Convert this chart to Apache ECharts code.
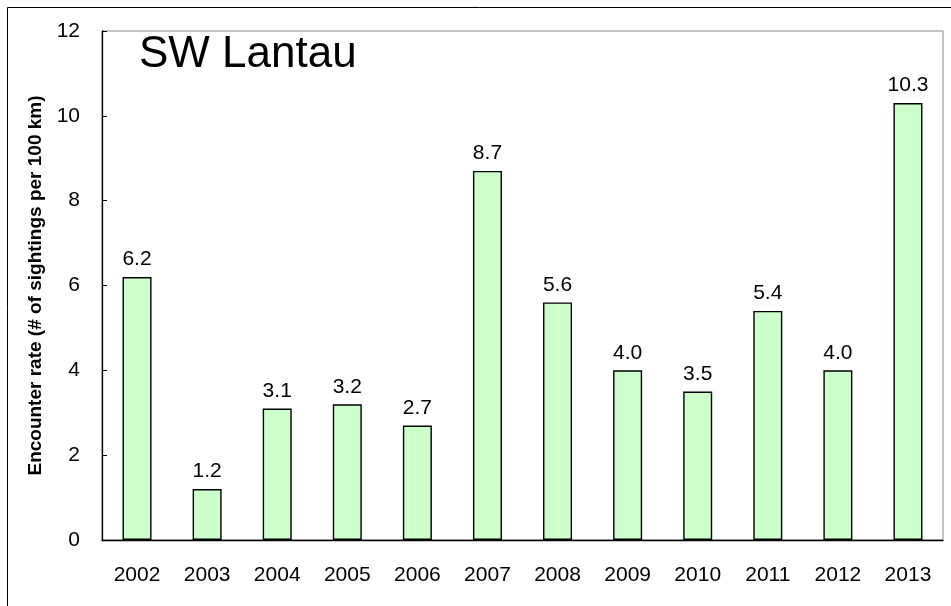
<!DOCTYPE html>
<html>
<head>
<meta charset="utf-8">
<script src="https://cdn.jsdelivr.net/npm/echarts@6/dist/echarts.min.js"></script>
<style>
  html, body { margin: 0; padding: 0; background: #fff; }
  #chart-wrap { width: 951px; height: 606px; }
</style>
</head>
<body>
<div id="chart-wrap"></div>
<script>
var years = ['2002', '2003', '2004', '2005', '2006', '2007', '2008', '2009', '2010', '2011', '2012', '2013'];
var rates = [6.2, 1.2, 3.1, 3.2, 2.7, 8.7, 5.6, 4.0, 3.5, 5.4, 4.0, 10.3];
var yTicks = [0, 2, 4, 6, 8, 10, 12];

var font = 'Arial, "Liberation Sans", sans-serif';
var myChart = echarts.init(document.getElementById('chart-wrap'));

var option = {
  animation: false,
  backgroundColor: '#fff',
  title: {
    text: 'SW Lantau',
    left: 134,
    top: 28,
    textStyle: { fontFamily: font, fontSize: 44, fontWeight: 'normal', color: '#000' }
  },
  graphic: [{
    type: 'rect',
    shape: { x: 7.5, y: 7.5, width: 980, height: 640 },
    style: { fill: 'none', stroke: '#000', lineWidth: 1 },
    silent: true
  }],
  grid: {
    left: 102, top: 31, right: 8, bottom: 66,
    show: true, borderColor: '#8c8c8c', borderWidth: 1
  },
  xAxis: {
    type: 'category',
    data: years,
    axisLine: { lineStyle: { color: '#000', width: 1.3 } },
    axisTick: { inside: true, length: 7, lineStyle: { color: '#000' } },
    axisLabel: { margin: 25, fontFamily: font, fontSize: 21, color: '#000' }
  },
  yAxis: {
    type: 'value',
    min: yTicks[0],
    max: yTicks[yTicks.length - 1],
    interval: 2,
    name: 'Encounter rate (# of sightings per 100 km)',
    nameLocation: 'middle',
    nameGap: 57,
    nameTextStyle: { fontFamily: font, fontSize: 19, fontWeight: 'bold', color: '#000' },
    splitLine: { show: false },
    axisLine: { show: true, lineStyle: { color: '#000', width: 1.3 } },
    axisTick: { show: true, inside: true, length: 5, lineStyle: { color: '#000' } },
    axisLabel: { margin: 22, fontFamily: font, fontSize: 21, color: '#000' }
  },
  series: [{
    type: 'bar',
    data: rates,
    barWidth: 29,
    itemStyle: { color: '#ccffcc', borderColor: '#000', borderWidth: 1.4 },
    label: {
      show: true,
      position: 'top',
      distance: 7,
      fontFamily: font,
      fontSize: 21,
      color: '#000',
      formatter: function (p) { return p.value.toFixed(1); }
    }
  }]
};

myChart.setOption(option);
</script>
</body>
</html>
